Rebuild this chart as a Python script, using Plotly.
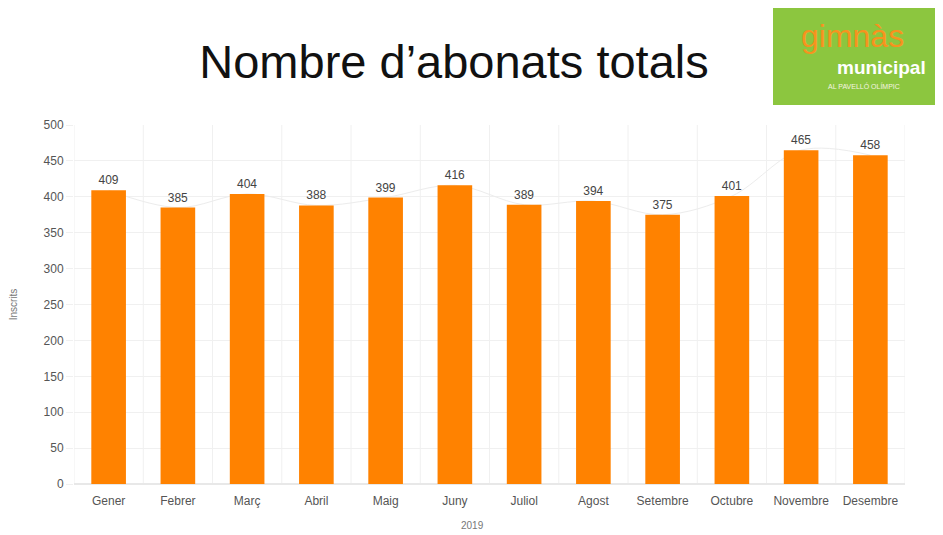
import plotly.graph_objects as go

months = ["Gener", "Febrer", "Març", "Abril", "Maig", "Juny", "Juliol",
          "Agost", "Setembre", "Octubre", "Novembre", "Desembre"]
subscribers = [409, 385, 404, 388, 399, 416, 389, 394, 375, 401, 465, 458]
y_ticks = [0, 50, 100, 150, 200, 250, 300, 350, 400, 450, 500]

# plot area in figure pixels (page has an 8px body offset)
L, R, T, B = 66, 897, 117, 476
W, H = 943, 535


def px(x, y):
    """window pixel -> paper coords"""
    fx, fy = x - 8, y - 8
    return (fx - L) / (R - L), (B - fy) / (B - T)


fig = go.Figure()
fig.add_trace(go.Scatter(
    x=months, y=subscribers, mode="lines", line=dict(color="#ececec", width=1, shape="spline"),
    showlegend=False, hoverinfo="skip", xaxis="x", yaxis="y",
))
fig.add_trace(go.Bar(
    x=months, y=subscribers, marker=dict(color="#FF8200", line=dict(width=0)),
    width=0.5, text=[str(v) for v in subscribers], textposition="outside",
    textfont=dict(color="#444444", size=12, family="Liberation Sans"),
    cliponaxis=False, showlegend=False, xaxis="x", yaxis="y2",
))

fig.update_layout(
    width=W, height=H, paper_bgcolor="white", plot_bgcolor="white",
    margin=dict(l=L, r=W - R, t=T, b=H - B, autoexpand=False),
    title=dict(text="Nombre d’abonats totals", x=(454 - 8) / W, xanchor="center",
               y=1 - (62 - 8) / H, yanchor="middle",
               font=dict(size=47, color="#111111", family="Liberation Sans")),
    font=dict(family="Liberation Sans", color="#555555", size=12),
    xaxis=dict(showgrid=False, tickfont=dict(size=12, color="#555555"),
               showline=False, ticks="outside", ticklen=6, tickcolor="white",
               range=[-0.5, 11.5]),
    yaxis=dict(range=[0, 500], tickvals=y_ticks, showgrid=True, gridcolor="#f0f0f0", gridwidth=1,
               zeroline=True, zerolinecolor="#e8e8e8",
               tickfont=dict(size=12, color="#555555"),
               title=dict(text="Inscrits", font=dict(size=10, color="#777777"), standoff=28),
               ticks="outside", ticklen=7, tickcolor="#f0f0f0", automargin=False),
    yaxis2=dict(range=[0, 500], overlaying="y", visible=False),
)

# vertical category boundary gridlines
for i in range(len(months) + 1):
    fig.add_shape(type="line", xref="x", yref="paper", x0=i - 0.5, x1=i - 0.5, y0=0, y1=1,
                  line=dict(color="#f0f0f0", width=1), layer="below")

# x axis title
ax, ay = px(472, 525)
fig.add_annotation(xref="paper", yref="paper", x=ax, y=ay, text="2019", showarrow=False,
                   xanchor="center", yanchor="middle", font=dict(size=10, color="#777777"))

# logo
x0, y1 = px(773, 0)
x1, y0 = px(945, 105)
fig.add_shape(type="rect", xref="paper", yref="paper", x0=x0, x1=x1, y0=y0, y1=y1,
              fillcolor="#8cc63f", line=dict(width=0), layer="above")
gx, gy = px(852, 36)
fig.add_annotation(xref="paper", yref="paper", x=gx, y=gy, text="gimnàs", showarrow=False,
                   xanchor="center", yanchor="middle",
                   font=dict(size=32, color="#F7931E", family="Liberation Sans"))
mx, my = px(881, 68)
fig.add_annotation(xref="paper", yref="paper", x=mx, y=my, text="<b>municipal</b>", showarrow=False,
                   xanchor="center", yanchor="middle",
                   font=dict(size=19, color="white", family="Liberation Sans"))
sx, sy = px(864, 86)
fig.add_annotation(xref="paper", yref="paper", x=sx, y=sy, text="AL PAVELLÓ OLÍMPIC", showarrow=False,
                   xanchor="center", yanchor="middle",
                   font=dict(size=7, color="#f4f4e0", family="Liberation Sans"))

fig.write_html("out.html")
